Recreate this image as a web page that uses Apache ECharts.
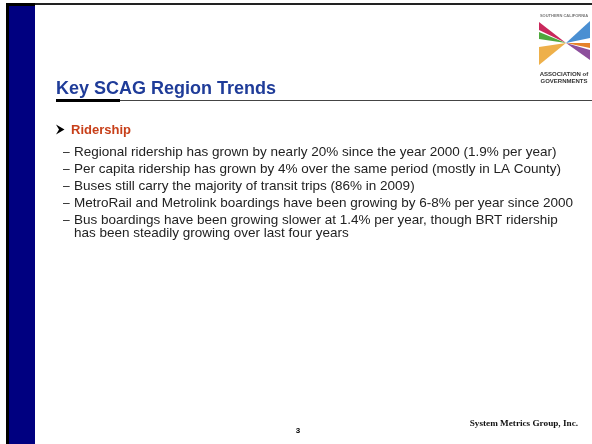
<!DOCTYPE html>
<html>
<head>
<meta charset="utf-8">
<script src="https://cdn.jsdelivr.net/npm/echarts@6/dist/echarts.min.js"></script>
<style>
html,body{margin:0;padding:0;background:#fff;}
#chart{width:592px;height:444px;}
</style>
</head>
<body>
<div id="chart"></div>
<script>
// ---- content ----
const slideTitle = 'Key SCAG Region Trends';
const sectionHeading = 'Ridership';
const bulletLines = [
  ['Regional ridership has grown by nearly 20% since the year 2000 (1.9% per year)'],
  ['Per capita ridership has grown by 4% over the same period (mostly in LA County)'],
  ['Buses still carry the majority of transit trips (86% in 2009)'],
  ['MetroRail and Metrolink boardings have been growing by 6-8% per year since 2000'],
  ['Bus boardings have been growing slower at 1.4% per year, though BRT ridership',
   'has been steadily growing over last four years']
];
const pageNumber = '3';
const footerCompany = 'System Metrics Group, Inc.';
const logoTopText = 'SOUTHERN CALIFORNIA';
const logoBottomText = ['ASSOCIATION of', 'GOVERNMENTS'];

const chart = echarts.init(document.getElementById('chart'), null, {renderer: 'canvas', width: 592, height: 444});

const SANS = '"Liberation Sans", Arial, sans-serif';
const SERIF = '"Liberation Serif", "Times New Roman", serif';

const elements = [];
// frame
elements.push({type: 'rect', shape: {x: 6, y: 3, width: 3, height: 441}, style: {fill: '#000'}});
elements.push({type: 'rect', shape: {x: 9, y: 3, width: 26, height: 441}, style: {fill: '#000080'}});
elements.push({type: 'rect', shape: {x: 6, y: 3, width: 29, height: 3}, style: {fill: '#000'}});
elements.push({type: 'rect', shape: {x: 35, y: 3, width: 557, height: 2}, style: {fill: '#222'}});

// title
elements.push({type: 'text', x: 56, y: 89, style: {text: slideTitle, fill: '#1f3c99',
  font: 'bold 18px ' + SANS, textVerticalAlign: 'middle'}});
elements.push({type: 'rect', shape: {x: 56, y: 99, width: 64, height: 3}, style: {fill: '#000'}});
elements.push({type: 'rect', shape: {x: 120, y: 100, width: 472, height: 1}, style: {fill: '#444'}});

// logo
const C = [566, 43];
const logoParts = [
  {p: [[539, 22], [539, 30]], c: '#c9285c'},
  {p: [[539, 32], [539, 39]], c: '#4fa83d'},
  {p: [[539, 47], [539, 65]], c: '#eeb04a'},
  {p: [[590, 21], [590, 38]], c: '#4a8fd2'},
  {p: [[590, 43], [590, 48]], c: '#e5822a'},
  {p: [[590, 50], [590, 60]], c: '#8d4f9c'}
];
logoParts.forEach(function (lp) {
  elements.push({type: 'polygon', shape: {points: [lp.p[0], lp.p[1], C]}, style: {fill: lp.c}});
});
elements.push({type: 'text', x: 564, y: 16, style: {text: logoTopText, fill: '#777',
  font: 'bold 4px ' + SANS, textAlign: 'center', textVerticalAlign: 'middle'}});
logoBottomText.forEach(function (t, i) {
  elements.push({type: 'text', x: 564, y: 74 + i * 7, style: {text: t, fill: '#333',
    font: 'bold 6px ' + SANS, textAlign: 'center', textVerticalAlign: 'middle'}});
});

// heading
elements.push({type: 'polygon', shape: {points: [[56, 124.5], [64.5, 129.5], [56, 134.5], [59, 129.5]]}, style: {fill: '#000'}});
elements.push({type: 'text', x: 71, y: 130, style: {text: sectionHeading, fill: '#c8401a',
  font: 'bold 13px ' + SANS, textVerticalAlign: 'middle'}});

// bullets
let y = 152.5;
bulletLines.forEach(function (lines) {
  elements.push({type: 'text', x: 63, y: y, style: {text: '–', fill: '#222',
    font: '12px ' + SANS, textVerticalAlign: 'middle'}});
  lines.forEach(function (ln, j) {
    elements.push({type: 'text', x: 74, y: y + j * 12.5, style: {text: ln, fill: '#222',
      font: '13.5px ' + SANS, textVerticalAlign: 'middle'}});
  });
  y += 17 + (lines.length - 1) * 12.5;
});

// footer
elements.push({type: 'text', x: 298, y: 431, style: {text: pageNumber, fill: '#000',
  font: 'bold 8px ' + SANS, textAlign: 'center', textVerticalAlign: 'middle'}});
elements.push({type: 'text', x: 578, y: 424, style: {text: footerCompany, fill: '#111',
  font: 'bold 9.2px ' + SERIF, textAlign: 'right', textVerticalAlign: 'middle'}});

chart.setOption({
  animation: false,
  backgroundColor: '#fff',
  graphic: {elements: elements}
});
</script>
</body>
</html>
